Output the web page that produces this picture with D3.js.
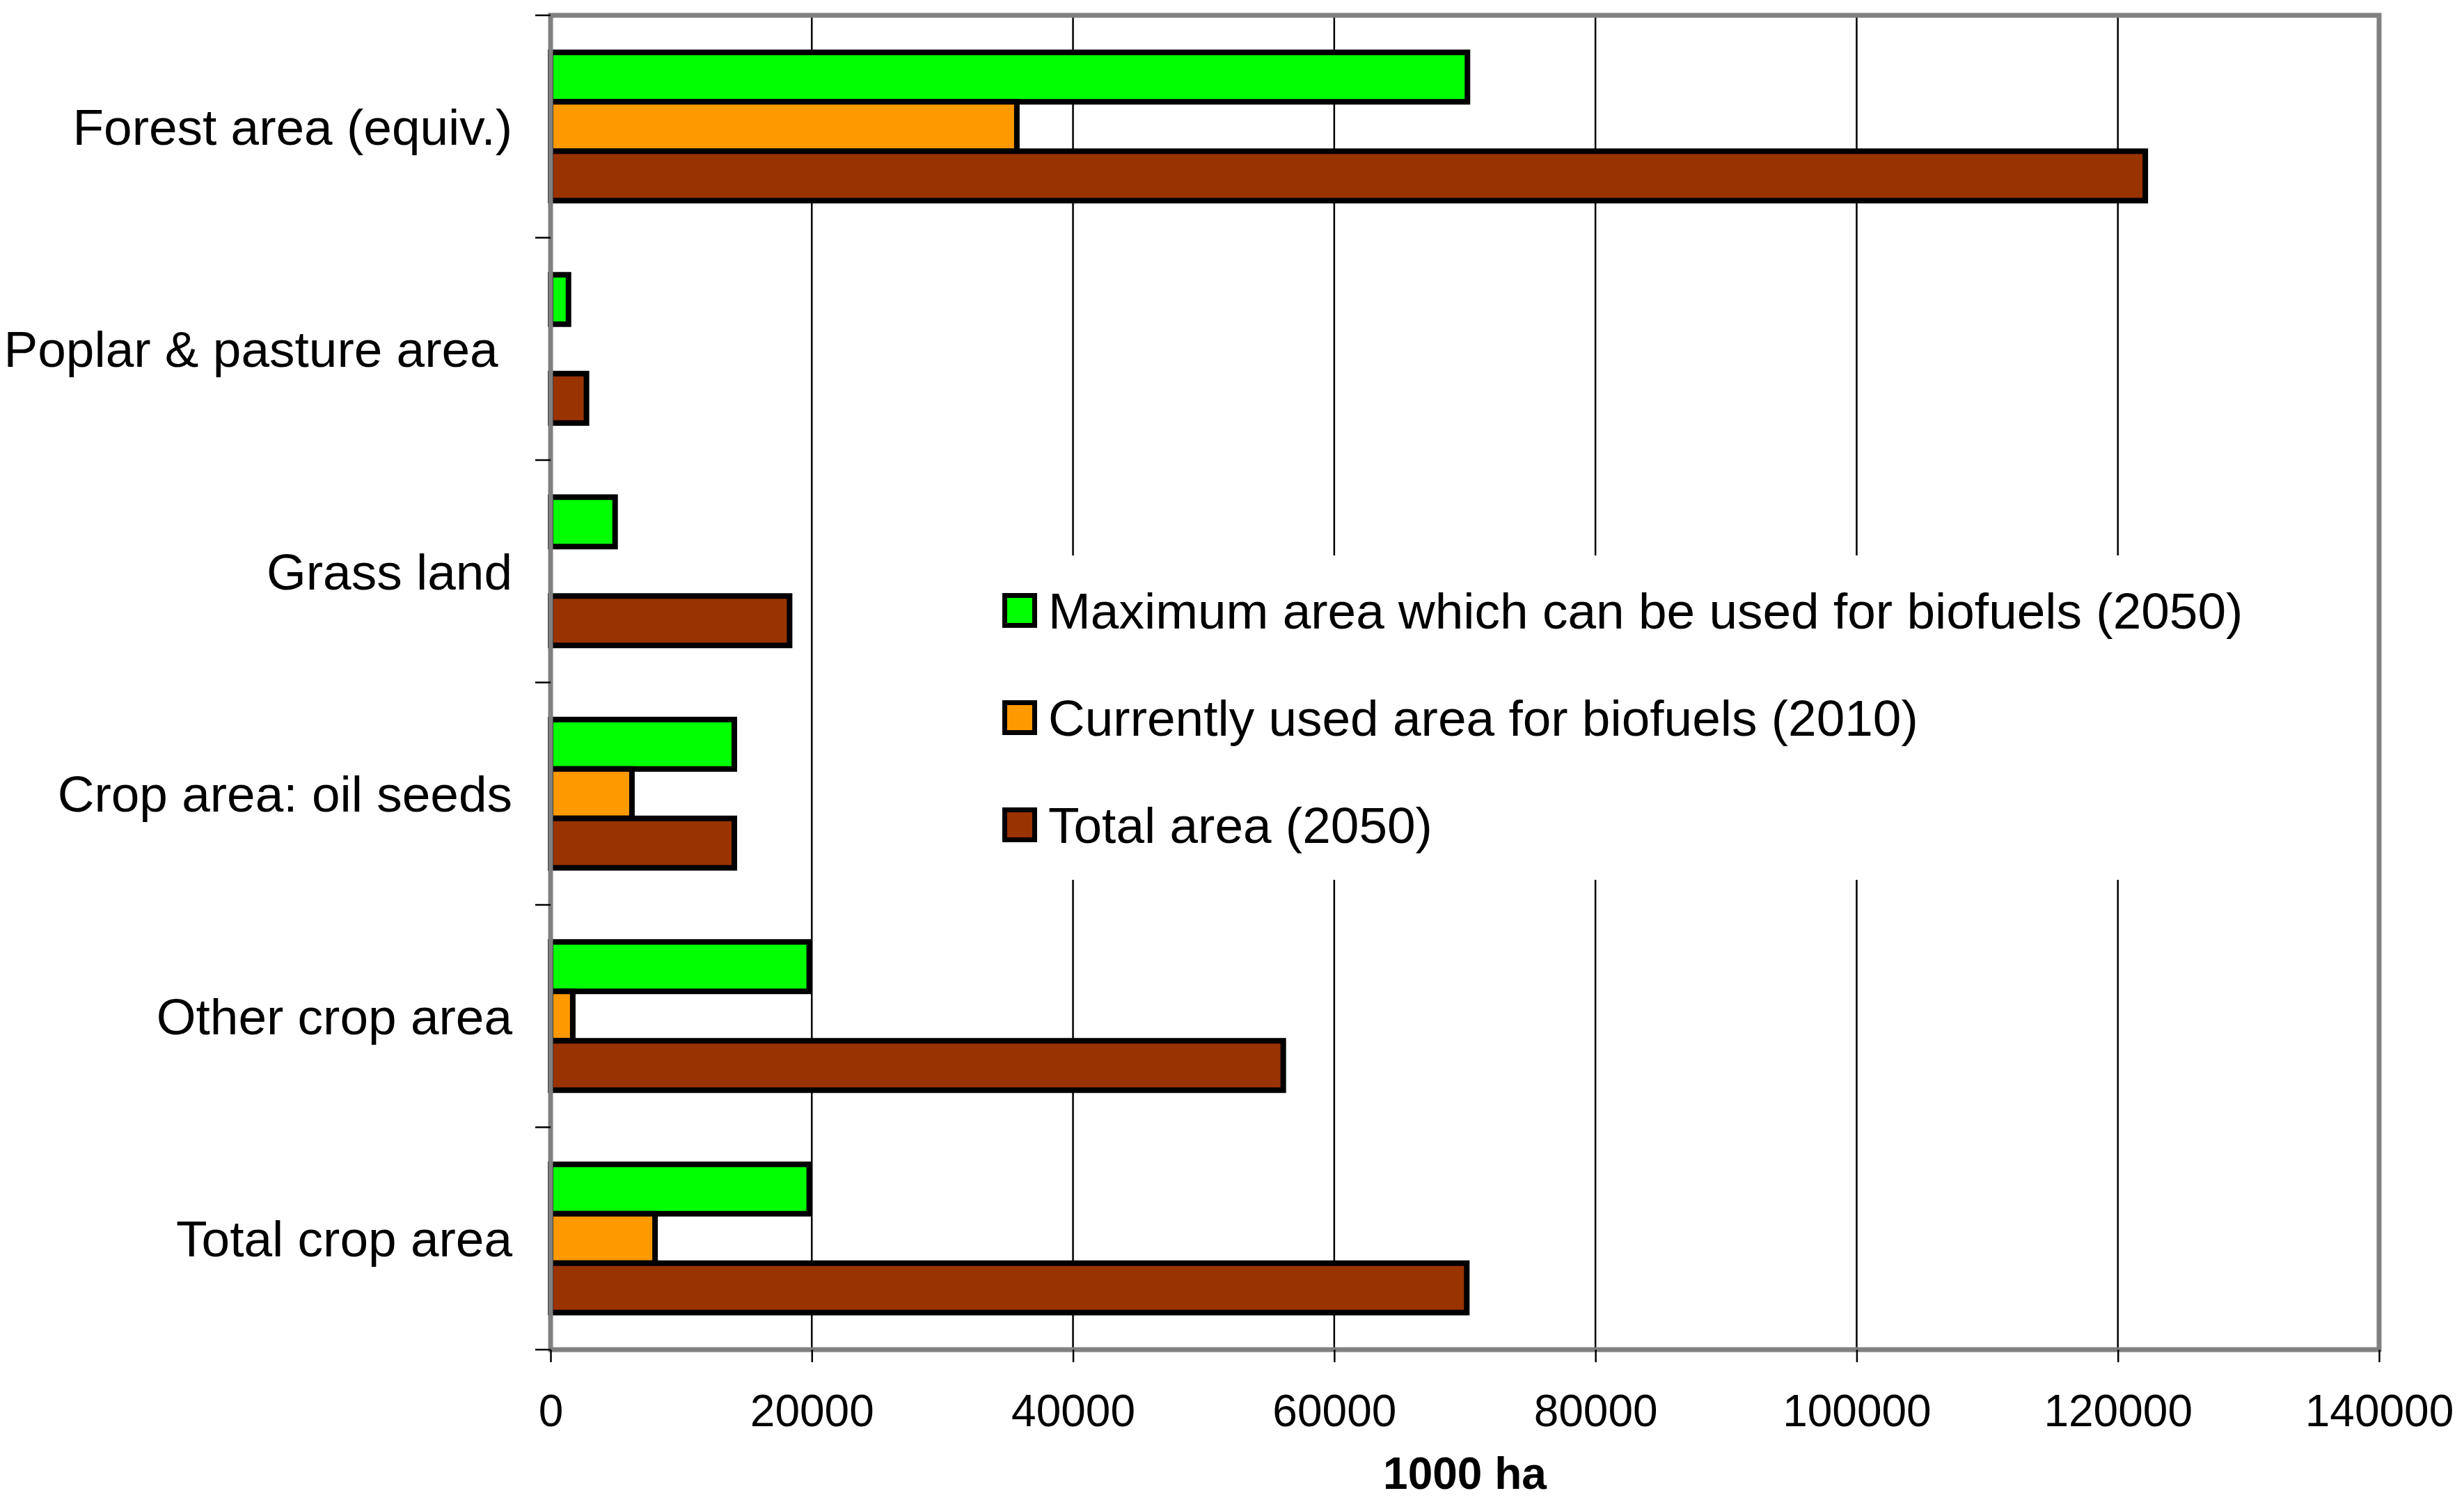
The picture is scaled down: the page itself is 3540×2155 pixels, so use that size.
<!DOCTYPE html>
<html>
<head>
<meta charset="utf-8">
<script src="https://cdn.jsdelivr.net/npm/d3@7"></script>
<style>
  body { margin: 0; background: #fff; }
  text { font-family: "Liberation Sans", Arial, sans-serif; fill: #000; }
</style>
</head>
<body>
<div id="chart"></div>
<script>
// data (1000 ha)
var categories = ["Forest area (equiv.)", "Poplar & pasture area ", "Grass land", "Crop area: oil seeds", "Other crop area", "Total crop area"];
var seriesNames = ["Maximum area which can be used for biofuels (2050)", "Currently used area for biofuels (2010)", "Total area (2050)"];
var maxArea2050 = [70200, 1370, 4940, 14070, 19800, 19800];
var usedArea2010 = [35700, null, null, 6230, 1700, 8000];
var totalArea2050 = [122100, 2750, 18300, 14070, 56100, 70150];
var xTicks = [0, 20000, 40000, 60000, 80000, 100000, 120000, 140000];
var colors = ["#00ff00", "#ff9900", "#993300"];

var svgWidth = 3540, svgHeight = 2155;
var plot = {left: 791, right: 3418, top: 22, bottom: 1939};

var svg = d3.select("#chart").append("svg")
    .attr("width", svgWidth)
    .attr("height", svgHeight);

var x = d3.scaleLinear().domain([0, 140000]).range([plot.left, plot.right]);
var y0 = d3.scaleBand().domain(categories).range([plot.top, plot.bottom]);
// gap width 150%: bars take 2/9 of the band each, 1/6 padding on each side
var y1 = d3.scaleBand().domain([0, 1, 2])
    .range([y0.bandwidth() / 6, y0.bandwidth() * 5 / 6]);

var allSeries = [maxArea2050, usedArea2010, totalArea2050];

// vertical gridlines
svg.append("g").selectAll("line")
    .data(xTicks.slice(1, -1))
    .enter().append("line")
    .attr("x1", function(d) { return x(d); })
    .attr("x2", function(d) { return x(d); })
    .attr("y1", plot.top)
    .attr("y2", plot.bottom)
    .attr("stroke", "#000")
    .attr("stroke-width", 2.5);

// legend background hides the gridlines behind it
var legend = svg.append("g");
legend.append("rect")
    .attr("x", 1420).attr("y", 798)
    .attr("width", 1840).attr("height", 466)
    .attr("fill", "#fff");

// bars
var bars = [];
categories.forEach(function(c, i) {
    allSeries.forEach(function(s, j) {
        if (s[i] != null) bars.push({cat: c, series: j, value: s[i]});
    });
});

svg.append("g").selectAll("rect")
    .data(bars)
    .enter().append("rect")
    .attr("x", x(0))
    .attr("y", function(d) { return y0(d.cat) + y1(d.series); })
    .attr("width", function(d) { return x(d.value) - x(0); })
    .attr("height", y1.bandwidth())
    .attr("fill", function(d) { return colors[d.series]; })
    .attr("stroke", "#000")
    .attr("stroke-width", 8);

// plot area border
svg.append("rect")
    .attr("x", plot.left).attr("y", plot.top)
    .attr("width", plot.right - plot.left)
    .attr("height", plot.bottom - plot.top)
    .attr("fill", "none")
    .attr("stroke", "#808080")
    .attr("stroke-width", 7);

// x axis
var xAxis = svg.append("g")
    .attr("transform", "translate(0," + plot.bottom + ")")
    .call(d3.axisBottom(x).tickValues(xTicks).tickFormat(d3.format("d")).tickSize(18).tickPadding(47));
xAxis.select(".domain").remove();
xAxis.selectAll(".tick line").attr("stroke", "#000").attr("stroke-width", 2.5);
xAxis.selectAll(".tick text")
    .attr("font-size", 64)
    .attr("font-family", "Liberation Sans, Arial, sans-serif");

svg.append("text")
    .attr("x", (plot.left + plot.right) / 2)
    .attr("y", 2139)
    .attr("text-anchor", "middle")
    .attr("font-size", 64)
    .attr("font-weight", "bold")
    .text("1000 ha");

// y axis ticks on the category boundaries
var boundaries = categories.map(function(c) { return y0(c); }).concat([plot.bottom]);
svg.append("g").selectAll("line")
    .data(boundaries)
    .enter().append("line")
    .attr("x1", plot.left - 22)
    .attr("x2", plot.left)
    .attr("y1", function(d) { return d; })
    .attr("y2", function(d) { return d; })
    .attr("stroke", "#000")
    .attr("stroke-width", 2.5);

// category labels
svg.append("g").selectAll("text")
    .data(categories)
    .enter().append("text")
    .attr("x", 736)
    .attr("y", function(d) { return y0(d) + y0.bandwidth() / 2 + 26; })
    .attr("text-anchor", "end")
    .attr("font-size", 73)
    .style("white-space", "pre")
    .text(function(d) { return d; });

// legend entries
var entry = legend.selectAll(".entry")
    .data(seriesNames)
    .enter().append("g")
    .attr("class", "entry")
    .attr("transform", function(d, i) { return "translate(1440," + (877 + i * 154) + ")"; });

entry.append("rect")
    .attr("x", 3.5).attr("y", -21.5)
    .attr("width", 43).attr("height", 43)
    .attr("fill", function(d, i) { return colors[i]; })
    .attr("stroke", "#000")
    .attr("stroke-width", 7);

entry.append("text")
    .attr("x", 66)
    .attr("y", 26)
    .attr("font-size", 73)
    .text(function(d) { return d; });
</script>
</body>
</html>
